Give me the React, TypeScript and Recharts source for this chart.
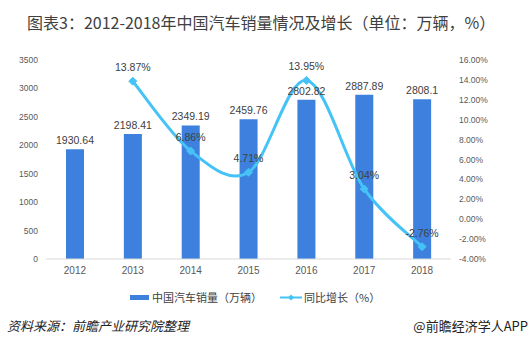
import React from 'react';
import {
  ComposedChart,
  Bar,
  Line,
  XAxis,
  YAxis,
  LabelList
} from 'recharts';

const years = ['2012', '2013', '2014', '2015', '2016', '2017', '2018'];
const sales = [1930.64, 2198.41, 2349.19, 2459.76, 2802.82, 2887.89, 2808.1];
const growth: (number | null)[] = [null, 13.87, 6.86, 4.71, 13.95, 3.04, -2.76];
const salesTicks = [0, 500, 1000, 1500, 2000, 2500, 3000, 3500];
const growthTicks = [-4, -2, 0, 2, 4, 6, 8, 10, 12, 14, 16];

const BAR_COLOR = '#3d80de';
const LINE_COLOR = '#45c3f7';
const TEXT = '#404040';
const CJK = '"Noto Sans CJK SC", "Noto Sans", sans-serif';
const NUM = '"Liberation Sans", Arial, sans-serif';

const data = years.map((year, i) => ({ year, sales: sales[i], growth: growth[i] }));

// Excel-style smoothed line (Catmull-Rom as cubic bezier)
const excelSmooth = (context: any) => {
  let pts: number[][] = [];
  return {
    areaStart() {},
    areaEnd() {},
    lineStart() {
      pts = [];
    },
    point(x: number, y: number) {
      pts.push([+x, +y]);
    },
    lineEnd() {
      if (!pts.length) return;
      context.moveTo(pts[0][0], pts[0][1]);
      for (let i = 0; i < pts.length - 1; i++) {
        const p0 = pts[i - 1] || pts[i];
        const p1 = pts[i];
        const p2 = pts[i + 1];
        const p3 = pts[i + 2] || p2;
        context.bezierCurveTo(
          p1[0] + (p2[0] - p0[0]) / 6,
          p1[1] + (p2[1] - p0[1]) / 6,
          p2[0] - (p3[0] - p1[0]) / 6,
          p2[1] - (p3[1] - p1[1]) / 6,
          p2[0],
          p2[1]
        );
      }
    }
  };
};

const Diamond = (props: any) => {
  const { cx, cy, index } = props;
  if (cx == null || cy == null) return <g key={`d-${index}`} />;
  const r = 4;
  return (
    <path
      key={`d-${index}`}
      d={`M${cx},${cy - r}L${cx + r},${cy}L${cx},${cy + r}L${cx - r},${cy}Z`}
      fill={LINE_COLOR}
      stroke={LINE_COLOR}
      strokeWidth={1}
      strokeLinejoin="round"
    />
  );
};

export default function App() {
  return (
    <div style={{ position: 'absolute', left: 0, top: 0, width: 530, height: 348, background: '#fff', overflow: 'hidden' }}>
      <div
        style={{
          position: 'absolute',
          left: 27,
          top: 11,
          fontFamily: CJK,
          fontSize: 16,
          lineHeight: '22px',
          color: TEXT,
          whiteSpace: 'nowrap'
        }}
      >
        图表3：2012-2018年中国汽车销量情况及增长（单位：万辆，%）
      </div>

      <ComposedChart
        width={530}
        height={348}
        data={data}
        margin={{ top: 60, right: 0, bottom: 59, left: 0 }}
        barSize={18}
      >
        <XAxis
          dataKey="year"
          height={30}
          tickLine={false}
          axisLine={{ stroke: '#d9d9d9' }}
          tick={{ fill: '#595959', fontSize: 10, fontFamily: NUM }}
        />
        <YAxis
          yAxisId="left"
          width={46}
          domain={[0, 3500]}
          ticks={salesTicks}
          axisLine={false}
          tickLine={false}
          tick={{ fill: '#595959', fontSize: 8.5, fontFamily: NUM }}
        />
        <YAxis
          yAxisId="right"
          orientation="right"
          width={79}
          domain={[-4, 16]}
          ticks={growthTicks}
          axisLine={false}
          tickLine={false}
          tickFormatter={(v: number) => `${v.toFixed(2)}%`}
          tick={{ fill: '#595959', fontSize: 8.5, fontFamily: NUM, textAnchor: 'start' }}
        />
        <Bar yAxisId="left" dataKey="sales" fill={BAR_COLOR} isAnimationActive={false}>
          <LabelList
            dataKey="sales"
            position="top"
            offset={5}
            fill={TEXT}
            fontSize={10.5}
            fontFamily={NUM}
          />
        </Bar>
        <Line
          yAxisId="right"
          dataKey="growth"
          type={excelSmooth as any}
          stroke={LINE_COLOR}
          strokeWidth={3}
          dot={<Diamond />}
          activeDot={false}
          isAnimationActive={false}
        >
          <LabelList
            dataKey="growth"
            position="top"
            offset={10}
            fill={TEXT}
            fontSize={10.5}
            fontFamily={NUM}
            formatter={(v: any) => (v == null ? '' : `${Number(v).toFixed(2)}%`)}
          />
        </Line>
      </ComposedChart>

      {/* legend */}
      <div
        style={{
          position: 'absolute',
          left: 0,
          top: 289,
          width: 530,
          height: 16,
          fontFamily: CJK,
          fontSize: 11,
          color: TEXT
        }}
      >
        <div style={{ position: 'absolute', left: 130, top: 6, width: 19, height: 5, background: BAR_COLOR }} />
        <div style={{ position: 'absolute', left: 152, top: 0, lineHeight: '16px', whiteSpace: 'nowrap' }}>
          中国汽车销量（万辆）
        </div>
        <svg style={{ position: 'absolute', left: 279, top: 0 }} width={24} height={16}>
          <line x1={1} y1={8.5} x2={23} y2={8.5} stroke={LINE_COLOR} strokeWidth={2} />
          <path d="M12,5.5L15,8.5L12,11.5L9,8.5Z" fill={LINE_COLOR} />
        </svg>
        <div style={{ position: 'absolute', left: 304, top: 0, lineHeight: '16px', whiteSpace: 'nowrap' }}>
          同比增长（%）
        </div>
      </div>

      {/* footer */}
      <div
        style={{
          position: 'absolute',
          left: 7,
          top: 317,
          fontFamily: CJK,
          fontSize: 13,
          fontStyle: 'italic',
          lineHeight: '18px',
          color: '#222',
          whiteSpace: 'nowrap'
        }}
      >
        资料来源：前瞻产业研究院整理
      </div>
      <div
        style={{
          position: 'absolute',
          right: 2,
          top: 317,
          fontFamily: CJK,
          fontSize: 13,
          lineHeight: '18px',
          color: '#222',
          whiteSpace: 'nowrap'
        }}
      >
        @前瞻经济学人APP
      </div>
    </div>
  );
}
